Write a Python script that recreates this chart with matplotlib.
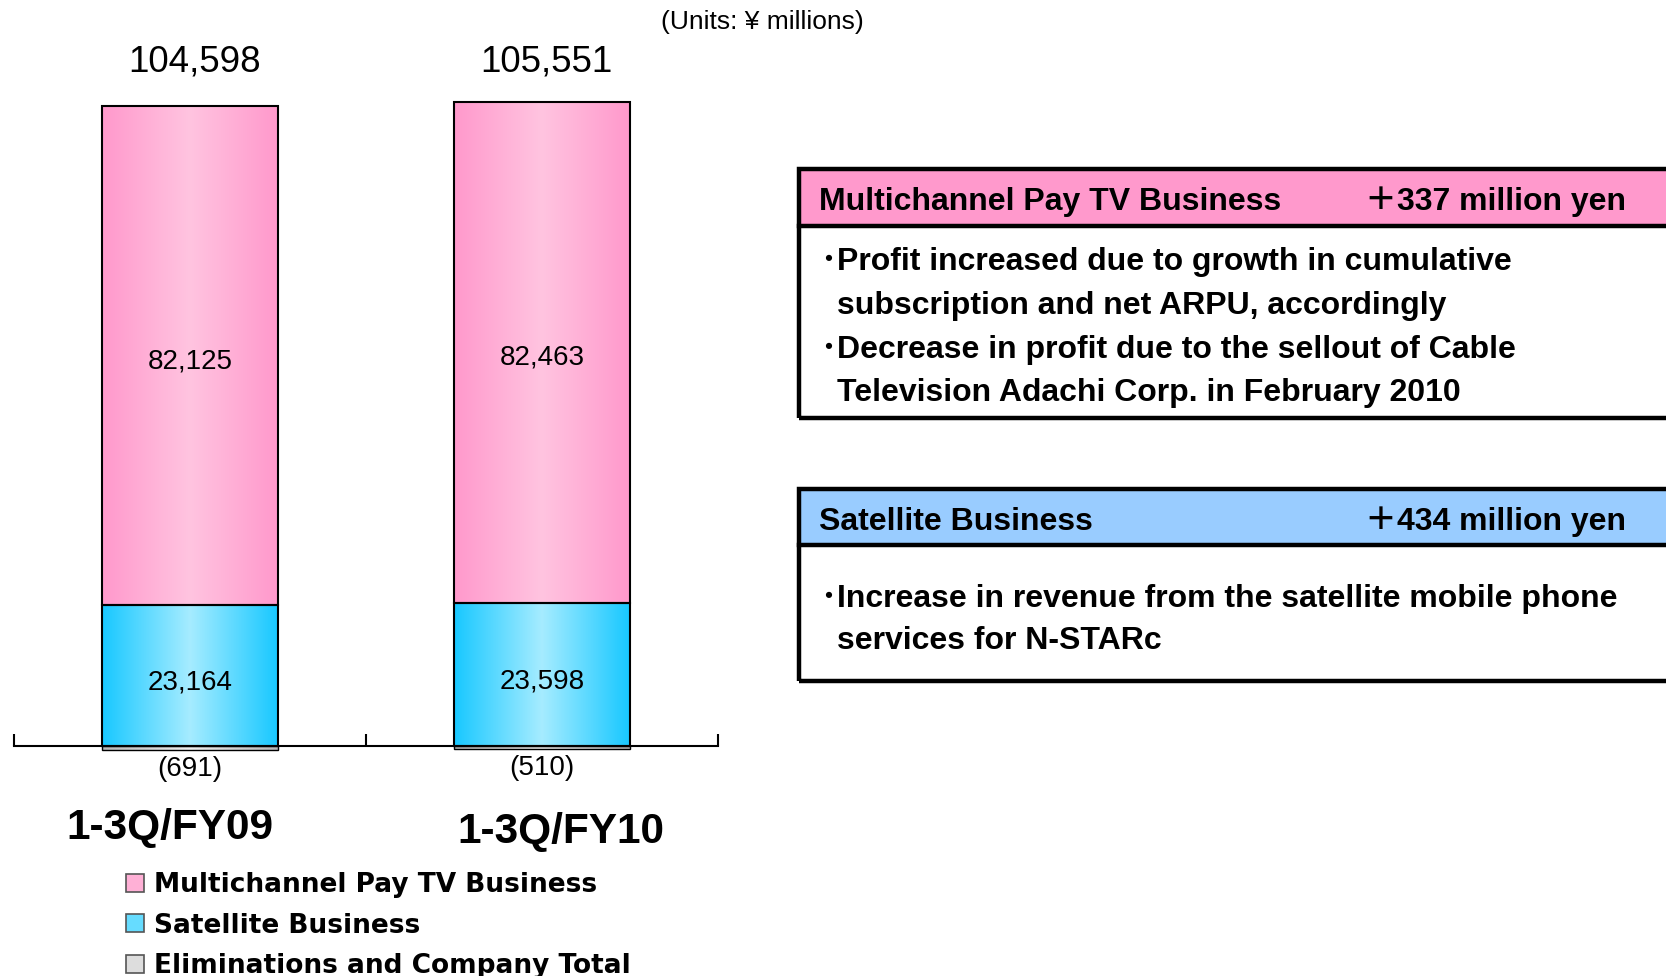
import numpy as np
import matplotlib
matplotlib.use("Agg")
import matplotlib.pyplot as plt
from matplotlib.patches import Patch, Rectangle
from matplotlib.colors import LinearSegmentedColormap

# data (units: yen millions)
periods = ["1-3Q/FY09", "1-3Q/FY10"]
multichannel = [82125, 82463]
satellite = [23164, 23598]
eliminations = [-691, -510]
totals = [104598, 105551]
series_names = ["Multichannel Pay TV Business", "Satellite Business",
                "Eliminations and Company Total"]

box_titles = ["Multichannel Pay TV Business", "Satellite Business"]
box_changes = ["\uff0b337 million yen", "\uff0b434 million yen"]
box_lines = [
    [("\uff65Profit increased due to growth in cumulative", 0),
     ("subscription and net ARPU, accordingly", 1),
     ("\uff65Decrease in profit due to the sellout of Cable", 0),
     ("Television Adachi Corp. in February 2010", 1)],
    [("\uff65Increase in revenue from the satellite mobile phone", 0),
     ("services for N-STARc", 1)],
]

W, H = 1666, 976
fig = plt.figure(figsize=(W / 100, H / 100), dpi=100)
fig.patch.set_facecolor("white")

def fx(px):
    return px / W

def fy(py):
    return 1 - py / H

SANS = ["Liberation Sans", "Noto Sans CJK JP", "DejaVu Sans"]

# gradients: edge -> centre -> edge
grads = {
    "pink": ["#ff99cc", "#ffc4e0", "#ff99cc"],
    "cyan": ["#18c8ff", "#a6ecff", "#18c8ff"],
    "gray": ["#b8b8b8", "#f0f0f0", "#b8b8b8"],
}
mid_cols = {"pink": "#ffb0d6", "cyan": "#66dcff", "gray": "#dddddd"}

ax = fig.add_axes([fx(14), fy(780), fx(704), 720 / H])
x = np.arange(len(periods)) + 0.5
bw = 0.5

def grad_fill(container, key):
    cmap = LinearSegmentedColormap.from_list(key, grads[key])
    g = np.linspace(0, 1, 256).reshape(1, -1)
    for p in container.patches:
        x0, y0 = p.get_x(), p.get_y()
        w, h = p.get_width(), p.get_height()
        im = ax.imshow(g, cmap=cmap, aspect="auto", interpolation="bilinear",
                       extent=[x0, x0 + w, min(y0, y0 + h), max(y0, y0 + h)],
                       zorder=2)
        im.set_clip_path(p)

b_sat = ax.bar(x, satellite, bw, facecolor="none", edgecolor="black",
               linewidth=1.5, zorder=3)
b_mul = ax.bar(x, multichannel, bw, bottom=satellite, facecolor="none",
               edgecolor="black", linewidth=1.5, zorder=3)
b_eli = ax.bar(x, eliminations, bw, facecolor="none", edgecolor="black",
               linewidth=1.0, zorder=3)
grad_fill(b_sat, "cyan")
grad_fill(b_mul, "pink")
grad_fill(b_eli, "gray")
ax.set_xlim(0, 2)
ax.set_ylim(-5600, 112900)

for s in ["top", "left", "right"]:
    ax.spines[s].set_visible(False)
ax.spines["bottom"].set_position(("data", 0))
ax.spines["bottom"].set_linewidth(1.5)
ax.spines["bottom"].set_zorder(4)
ax.set_xticks([0, 1, 2])
ax.set_xticklabels([])
ax.tick_params(axis="x", direction="in", length=8.6, width=1.5)
ax.set_yticks([])

for i in range(len(periods)):
    ax.annotate(f"{multichannel[i]:,}", (x[i], satellite[i] + multichannel[i] / 2),
                xytext=(0, -4), textcoords="offset points", ha="center",
                va="center", fontsize=20, family=SANS, zorder=5)
    ax.annotate(f"{satellite[i]:,}", (x[i], satellite[i] / 2),
                xytext=(0, -5), textcoords="offset points", ha="center",
                va="center", fontsize=20, family=SANS, zorder=5)
    ax.annotate(f"({-eliminations[i]:,})", (x[i], eliminations[i]),
                xytext=(0, -4), textcoords="offset points", ha="center",
                va="top", fontsize=20, family=SANS)
    ax.text(x[i] + 0.012, 0.997, f"{totals[i]:,}", transform=ax.get_xaxis_transform(),
            ha="center", va="center", fontsize=26.5, family=SANS)

cat_dx = [-0.057, 0.054]
cat_dy = [828, 832]
for i, lab in enumerate(periods):
    fig.text(fx(14 + (x[i] + cat_dx[i]) * 352), fy(cat_dy[i]), lab,
             ha="center", va="center", fontsize=30.5, fontweight="bold",
             family=SANS)

fig.text(fx(762), fy(22), "(Units: \u00a5 millions)", ha="center", va="center",
         fontsize=19, family=SANS)

handles = [Patch(facecolor=mid_cols[k], edgecolor="#555555", linewidth=1.2)
           for k in ["pink", "cyan", "gray"]]
fig.legend(handles, series_names, loc="upper left",
           bbox_to_anchor=(fx(126), fy(872)), frameon=False, borderpad=0,
           borderaxespad=0, handlelength=0.68, handleheight=0.68,
           handletextpad=0.38, labelspacing=0.55,
           prop={"family": "DejaVu Sans", "weight": "bold", "size": 19})

# explanation boxes on the right
box_geo = [(169, 226, 418), (489, 545, 681)]
head_cols = ["#ff99cc", "#99ccff"]
line_y = [[262, 306, 350, 393], [599, 641]]
head_y = [202, 522]
for k in range(2):
    top, mid, bot = box_geo[k]
    fig.patches.append(Rectangle((fx(799), fy(mid)), fx(1000), (mid - top) / H,
                                 transform=fig.transFigure, facecolor=head_cols[k],
                                 edgecolor="none", zorder=1))
    fig.patches.append(Rectangle((fx(799), fy(bot)), fx(1000), (bot - top) / H,
                                 transform=fig.transFigure, facecolor="none",
                                 edgecolor="black", linewidth=3.2, zorder=2))
    fig.add_artist(plt.Line2D([fx(799), 1.1], [fy(mid), fy(mid)],
                              transform=fig.transFigure, color="black",
                              linewidth=3.2, zorder=2))
    fig.text(fx(819), fy(head_y[k]), box_titles[k], ha="left", va="center",
             fontsize=23, fontweight="bold", family=SANS)
    fig.text(fx(1365), fy(head_y[k]), box_changes[k], ha="left", va="center",
             fontsize=23, fontweight="bold", family=SANS)
    for (txt, ind), yy in zip(box_lines[k], line_y[k]):
        fig.text(fx(821 + 16 * ind), fy(yy), txt, ha="left", va="center",
                 fontsize=23, fontweight="bold", family=SANS)

fig.savefig("out.png", dpi=100)
